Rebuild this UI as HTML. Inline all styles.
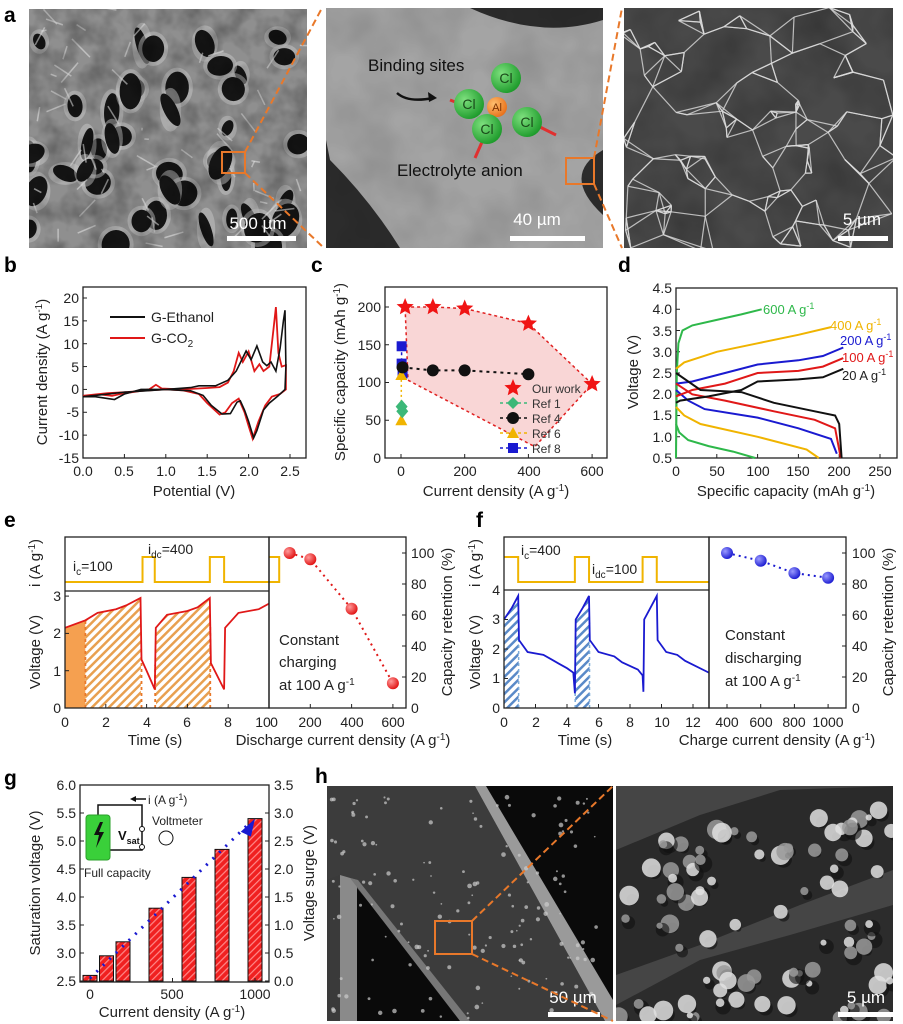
<!DOCTYPE html>
<html><head><meta charset="utf-8">
<style>
html,body{margin:0;padding:0;background:#fff;}
svg{display:block;font-family:"Liberation Sans",Arial,sans-serif;}
.t{font-size:14px;fill:#222;}
.ti{font-size:15px;fill:#222;}
.pl{font-size:21px;font-weight:bold;fill:#000;}
.ax{fill:none;stroke:#222;stroke-width:1.3;}
.w{fill:#fff;font-size:17px;}
</style></head>
<body>
<svg id="s" width="903" height="1024" viewBox="0 0 903 1024" xmlns="http://www.w3.org/2000/svg">
<defs>
<filter id="n1" x="0" y="0" width="1" height="1">
<feTurbulence type="fractalNoise" baseFrequency="0.045" numOctaves="3" seed="3"/>
<feColorMatrix type="matrix" values="0 0 0 0 0  0 0 0 0 0  0 0 0 0 0  1.6 0 0 0 -0.55"/>
</filter>
<filter id="n2" x="0" y="0" width="1" height="1">
<feTurbulence type="fractalNoise" baseFrequency="0.02" numOctaves="3" seed="7"/>
<feColorMatrix type="matrix" values="0 0 0 0 0  0 0 0 0 0  0 0 0 0 0  0.8 0 0 0 -0.25"/>
</filter>
<pattern id="hatchO" width="6" height="6" patternUnits="userSpaceOnUse" patternTransform="rotate(45)">
<rect width="6" height="6" fill="#fff"/><rect width="2.5" height="6" fill="#e8a050"/></pattern>
<pattern id="hatchB" width="6" height="6" patternUnits="userSpaceOnUse" patternTransform="rotate(45)">
<rect width="6" height="6" fill="#fff"/><rect width="2.5" height="6" fill="#5a8ac8"/></pattern>
<pattern id="hatchR" width="5" height="5" patternUnits="userSpaceOnUse" patternTransform="rotate(45)">
<rect width="5" height="5" fill="#f02020"/><rect width="1.2" height="5" fill="#ff8a8a"/></pattern>
<radialGradient id="rb" cx="0.35" cy="0.35" r="0.7"><stop offset="0" stop-color="#ff9a9a"/><stop offset="1" stop-color="#e01010"/></radialGradient>
<radialGradient id="bb" cx="0.35" cy="0.35" r="0.7"><stop offset="0" stop-color="#9a9aff"/><stop offset="1" stop-color="#1818d0"/></radialGradient>
<radialGradient id="gb" cx="0.35" cy="0.35" r="0.7"><stop offset="0" stop-color="#7ee07e"/><stop offset="1" stop-color="#1c9a2a"/></radialGradient>
<radialGradient id="ob" cx="0.35" cy="0.35" r="0.7"><stop offset="0" stop-color="#ffc070"/><stop offset="1" stop-color="#e8701a"/></radialGradient>
<clipPath id="c1"><rect x="29" y="9" width="278" height="239"/></clipPath>
<clipPath id="c3"><rect x="624" y="8" width="269" height="240"/></clipPath>
<clipPath id="ch1"><rect x="327" y="786" width="286" height="235"/></clipPath>
<clipPath id="ch2"><rect x="616" y="786" width="277" height="235"/></clipPath>
<clipPath id="cel"><rect x="65" y="591" width="204" height="117"/></clipPath>
<clipPath id="cfl"><rect x="504" y="590" width="205" height="118"/></clipPath>
</defs>

<!-- ===== a ===== -->
<text class="pl" x="4" y="22">a</text>
<rect x="29" y="9" width="278" height="239" fill="#8f8f8f"/>
<g clip-path="url(#c1)" id="a1g"></g>
<rect x="29" y="9" width="278" height="239" filter="url(#n1)" opacity="0.35"/>
<rect x="222" y="152" width="23" height="21" fill="none" stroke="#e8782a" stroke-width="2"/>
<text class="w" x="258" y="229" text-anchor="middle">500 µm</text>
<rect x="227" y="236" width="69" height="5" fill="#fff"/>

<rect x="326" y="8" width="277" height="240" fill="#2c2c2c"/>
<path d="M326 8 L470 8 Q540 40 603 20 L603 150 Q560 175 603 215 L603 248 L400 248 Q370 200 330 160 L326 140 Z" fill="#a4a4a4"/>
<rect x="326" y="8" width="277" height="240" fill="#000" filter="url(#n2)" opacity="0.25"/>
<text x="368" y="71" style="font-size:17px" fill="#111">Binding sites</text>
<path d="M397 93 Q408 103 433 98" fill="none" stroke="#111" stroke-width="2.5"/>
<path d="M437 98 l-9 -6 l1 10 z" fill="#111"/>
<line x1="450" y1="100" x2="458" y2="103" stroke="#e03030" stroke-width="3"/>
<line x1="540" y1="127" x2="556" y2="135" stroke="#e03030" stroke-width="3"/>
<line x1="482" y1="142" x2="475" y2="158" stroke="#e03030" stroke-width="3"/>
<circle cx="506" cy="78" r="15" fill="url(#gb)"/>
<circle cx="469" cy="104" r="15" fill="url(#gb)"/>
<circle cx="527" cy="122" r="15" fill="url(#gb)"/>
<circle cx="497" cy="107" r="10" fill="url(#ob)"/>
<circle cx="487" cy="129" r="15" fill="url(#gb)"/>
<g style="font-size:14px" fill="#1a4a1a" text-anchor="middle">
<text x="506" y="83">Cl</text><text x="469" y="109">Cl</text><text x="527" y="127">Cl</text><text x="487" y="134">Cl</text>
<text x="497" y="111" style="font-size:11px" fill="#7a3000">Al</text></g>
<text x="397" y="176" style="font-size:17px" fill="#111">Electrolyte anion</text>
<rect x="566" y="158" width="28" height="26" fill="none" stroke="#e8782a" stroke-width="2"/>
<text class="w" x="537" y="225" text-anchor="middle">40 µm</text>
<rect x="510" y="236" width="75" height="5" fill="#fff"/>

<rect x="624" y="8" width="269" height="240" fill="#4a4a4a"/>
<rect x="624" y="8" width="269" height="240" fill="#000" filter="url(#n2)" opacity="0.5"/>
<g clip-path="url(#c3)" id="a3g"></g>
<text class="w" x="862" y="225" text-anchor="middle">5 µm</text>
<rect x="838" y="236" width="50" height="5" fill="#fff"/>
<g stroke="#e8782a" stroke-width="2" stroke-dasharray="7,4" fill="none">
<line x1="245" y1="152" x2="322" y2="8"/><line x1="245" y1="173" x2="324" y2="248"/>
<line x1="594" y1="158" x2="622" y2="8"/><line x1="594" y1="184" x2="622" y2="248"/>
</g>

<!-- ===== b ===== -->
<text class="pl" x="4" y="272">b</text>
<rect class="ax" x="83" y="287" width="223" height="171"/>
<g id="bt"></g>
<g class="t" text-anchor="end">
<text x="79" y="303">20</text><text x="79" y="326">15</text><text x="79" y="349">10</text><text x="79" y="372">5</text><text x="79" y="394">0</text><text x="79" y="417">-5</text><text x="79" y="440">-10</text><text x="79" y="463">-15</text></g>
<g class="t" text-anchor="middle">
<text x="83" y="476">0.0</text><text x="124" y="476">0.5</text><text x="166" y="476">1.0</text><text x="207" y="476">1.5</text><text x="249" y="476">2.0</text><text x="290" y="476">2.5</text></g>
<text class="ti" x="194" y="496" text-anchor="middle">Potential (V)</text>
<text class="ti" transform="translate(47,372) rotate(-90)" text-anchor="middle">Current density (A g<tspan dy="-5" font-size="10">-1</tspan><tspan dy="5">)</tspan></text>
<line x1="110" y1="317" x2="145" y2="317" stroke="#111" stroke-width="2"/>
<text class="t" x="151" y="322">G-Ethanol</text>
<line x1="110" y1="338" x2="145" y2="338" stroke="#e01818" stroke-width="2"/>
<text class="t" x="151" y="343">G-CO<tspan dy="4" font-size="10">2</tspan></text>
<g id="bc"></g>

<!-- ===== c ===== -->
<text class="pl" x="311" y="272">c</text>
<g id="cc"></g>
<rect class="ax" x="385" y="287" width="222" height="171"/>
<g class="t" text-anchor="end">
<text x="381" y="463">0</text><text x="381" y="425">50</text><text x="381" y="387">100</text><text x="381" y="350">150</text><text x="381" y="312">200</text></g>
<g class="t" text-anchor="middle">
<text x="401" y="476">0</text><text x="465" y="476">200</text><text x="529" y="476">400</text><text x="592" y="476">600</text></g>
<text class="ti" x="496" y="496" text-anchor="middle">Current density (A g<tspan dy="-5" font-size="10">-1</tspan><tspan dy="5">)</tspan></text>
<text class="ti" transform="translate(345,372) rotate(-90)" text-anchor="middle">Specific capacity (mAh g<tspan dy="-5" font-size="10">-1</tspan><tspan dy="5">)</tspan></text>
<g style="font-size:12px" fill="#333">
<text x="532" y="393">Our work</text><text x="532" y="408">Ref 1</text><text x="532" y="423">Ref 4</text><text x="532" y="438">Ref 6</text><text x="532" y="453">Ref 8</text></g>

<!-- ===== d ===== -->
<text class="pl" x="618" y="272">d</text>
<rect class="ax" x="676" y="288" width="221" height="170"/>
<g class="t" text-anchor="end">
<text x="672" y="293">4.5</text><text x="672" y="314">4.0</text><text x="672" y="336">3.5</text><text x="672" y="357">3.0</text><text x="672" y="378">2.5</text><text x="672" y="399">2.0</text><text x="672" y="420">1.5</text><text x="672" y="442">1.0</text><text x="672" y="463">0.5</text></g>
<g class="t" text-anchor="middle">
<text x="676" y="476">0</text><text x="717" y="476">50</text><text x="758" y="476">100</text><text x="798" y="476">150</text><text x="839" y="476">200</text><text x="880" y="476">250</text></g>
<text class="ti" x="786" y="496" text-anchor="middle">Specific capacity (mAh g<tspan dy="-5" font-size="10">-1</tspan><tspan dy="5">)</tspan></text>
<text class="ti" transform="translate(638,372) rotate(-90)" text-anchor="middle">Voltage (V)</text>
<g id="dc"></g>
<g style="font-size:13px">
<text x="763" y="314" fill="#2eb84a">600 A g<tspan dy="-5" font-size="9">-1</tspan></text>
<text x="830" y="330" fill="#f0b400">400 A g<tspan dy="-5" font-size="9">-1</tspan></text>
<text x="840" y="345" fill="#1a1ad0">200 A g<tspan dy="-5" font-size="9">-1</tspan></text>
<text x="842" y="362" fill="#e01818">100 A g<tspan dy="-5" font-size="9">-1</tspan></text>
<text x="842" y="380" fill="#222">20 A g<tspan dy="-5" font-size="9">-1</tspan></text></g>

<!-- ===== e ===== -->
<text class="pl" x="4" y="527">e</text>
<g id="ec"></g>
<rect class="ax" x="65" y="537" width="204" height="171"/>
<line class="ax" x1="65" y1="591" x2="269" y2="591"/>
<rect class="ax" x="269" y="537" width="137" height="171"/>
<text class="t" x="73" y="571">i<tspan dy="4" font-size="10">c</tspan><tspan dy="-4">=100</tspan></text>
<text class="t" x="148" y="554">i<tspan dy="4" font-size="10">dc</tspan><tspan dy="-4">=400</tspan></text>
<g class="t" text-anchor="end"><text x="61" y="713">0</text><text x="61" y="676">1</text><text x="61" y="638">2</text><text x="61" y="601">3</text></g>
<g class="t" text-anchor="middle"><text x="65" y="727">0</text><text x="106" y="727">2</text><text x="147" y="727">4</text><text x="187" y="727">6</text><text x="228" y="727">8</text><text x="263" y="727">10</text><text x="274" y="727">0</text>
<text x="310" y="727">200</text><text x="352" y="727">400</text><text x="393" y="727">600</text></g>
<text class="ti" x="155" y="745" text-anchor="middle">Time (s)</text>
<text class="ti" x="343" y="745" text-anchor="middle">Discharge current density (A g<tspan dy="-5" font-size="10">-1</tspan><tspan dy="5">)</tspan></text>
<text class="ti" transform="translate(40,652) rotate(-90)" text-anchor="middle">Voltage (V)</text>
<text class="ti" transform="translate(40,563) rotate(-90)" text-anchor="middle">i (A g<tspan dy="-5" font-size="10">-1</tspan><tspan dy="5">)</tspan></text>
<g class="t"><text x="411" y="713">0</text><text x="411" y="682">20</text><text x="411" y="651">40</text><text x="411" y="620">60</text><text x="411" y="589">80</text><text x="411" y="558">100</text></g>
<g class="ti"><text x="279" y="645">Constant</text><text x="279" y="667">charging</text><text x="279" y="690">at 100 A g<tspan dy="-5" font-size="10">-1</tspan></text></g>
<text class="ti" transform="translate(452,622) rotate(-90)" text-anchor="middle">Capacity retention (%)</text>

<!-- ===== f ===== -->
<text class="pl" x="476" y="527">f</text>
<g id="fc"></g>
<rect class="ax" x="504" y="537" width="205" height="171"/>
<line class="ax" x1="504" y1="590" x2="709" y2="590"/>
<rect class="ax" x="709" y="537" width="137" height="171"/>
<text class="t" x="521" y="555">i<tspan dy="4" font-size="10">c</tspan><tspan dy="-4">=400</tspan></text>
<text class="t" x="592" y="574">i<tspan dy="4" font-size="10">dc</tspan><tspan dy="-4">=100</tspan></text>
<g class="t" text-anchor="end"><text x="500" y="713">0</text><text x="500" y="683">1</text><text x="500" y="654">2</text><text x="500" y="624">3</text><text x="500" y="595">4</text></g>
<g class="t" text-anchor="middle"><text x="504" y="727">0</text><text x="536" y="727">2</text><text x="567" y="727">4</text><text x="599" y="727">6</text><text x="630" y="727">8</text><text x="662" y="727">10</text><text x="693" y="727">12</text>
<text x="727" y="727">400</text><text x="761" y="727">600</text><text x="794" y="727">800</text><text x="828" y="727">1000</text></g>
<text class="ti" x="585" y="745" text-anchor="middle">Time (s)</text>
<text class="ti" x="777" y="745" text-anchor="middle">Charge current density (A g<tspan dy="-5" font-size="10">-1</tspan><tspan dy="5">)</tspan></text>
<text class="ti" transform="translate(480,652) rotate(-90)" text-anchor="middle">Voltage (V)</text>
<text class="ti" transform="translate(480,563) rotate(-90)" text-anchor="middle">i (A g<tspan dy="-5" font-size="10">-1</tspan><tspan dy="5">)</tspan></text>
<g class="t"><text x="852" y="713">0</text><text x="852" y="682">20</text><text x="852" y="651">40</text><text x="852" y="620">60</text><text x="852" y="589">80</text><text x="852" y="558">100</text></g>
<g class="ti"><text x="725" y="640">Constant</text><text x="725" y="663">discharging</text><text x="725" y="686">at 100 A g<tspan dy="-5" font-size="10">-1</tspan></text></g>
<text class="ti" transform="translate(893,622) rotate(-90)" text-anchor="middle">Capacity retention (%)</text>

<!-- ===== g ===== -->
<text class="pl" x="4" y="785">g</text>
<g id="gc"></g>
<rect class="ax" x="80" y="785" width="189" height="197"/>
<g class="t" text-anchor="end"><text x="76" y="986">2.5</text><text x="76" y="958">3.0</text><text x="76" y="930">3.5</text><text x="76" y="902">4.0</text><text x="76" y="874">4.5</text><text x="76" y="846">5.0</text><text x="76" y="818">5.5</text><text x="76" y="790">6.0</text></g>
<g class="t"><text x="274" y="986">0.0</text><text x="274" y="958">0.5</text><text x="274" y="930">1.0</text><text x="274" y="902">1.5</text><text x="274" y="874">2.0</text><text x="274" y="846">2.5</text><text x="274" y="818">3.0</text><text x="274" y="790">3.5</text></g>
<g class="t" text-anchor="middle"><text x="90" y="999">0</text><text x="172" y="999">500</text><text x="255" y="999">1000</text></g>
<text class="ti" x="172" y="1017" text-anchor="middle">Current density (A g<tspan dy="-5" font-size="10">-1</tspan><tspan dy="5">)</tspan></text>
<text class="ti" transform="translate(40,883) rotate(-90)" text-anchor="middle">Saturation voltage (V)</text>
<text class="ti" transform="translate(314,883) rotate(-90)" text-anchor="middle">Voltage surge (V)</text>
<path d="M98 815 V805 H142 V850 H98 V840" fill="none" stroke="#111" stroke-width="1.5"/>
<line x1="132" y1="799" x2="146" y2="799" stroke="#111" stroke-width="1.5"/><path d="M130 799 l6 -3 v6 z" fill="#111"/>
<text class="t" x="148" y="804" style="font-size:12px">i (A g<tspan dy="-4" font-size="9">-1</tspan><tspan dy="4">)</tspan></text>
<rect x="86" y="815" width="24" height="45" rx="3" fill="#3ad03a" stroke="#2aa02a"/>
<path d="M100 822 l-6 13 h5 l-3 13 l8 -16 h-5 l4 -10 z" fill="#111"/>
<text x="118" y="840" style="font-size:13px;font-weight:bold" fill="#111">V<tspan dy="4" font-size="9">sat</tspan></text>
<circle cx="142" cy="829" r="2.5" fill="#fff" stroke="#111"/><circle cx="142" cy="847" r="2.5" fill="#fff" stroke="#111"/>
<circle cx="166" cy="838" r="7" fill="none" stroke="#111"/>
<text x="152" y="825" style="font-size:12px" fill="#222">Voltmeter</text>
<text x="84" y="877" style="font-size:12px" fill="#222">Full capacity</text>

<!-- ===== h ===== -->
<text class="pl" x="315" y="783">h</text>
<rect x="327" y="786" width="286" height="235" fill="#0a0a0a"/>
<g clip-path="url(#ch1)">
<polygon points="327,786 475,786 605,1021 470,1021 350,880 327,880" fill="#3c3c3c"/>
<polygon points="327,880 340,875 340,1021 327,1021" fill="#3a3a3a"/>
<polygon points="475,786 486,786 613,1000 613,1021 605,1021" fill="#9a9a9a"/>
<polygon points="340,875 357,880 357,1021 340,1021" fill="#8a8a8a"/>
<polygon points="350,878 358,880 470,1021 460,1021" fill="#777"/>
<g id="h1g"></g>
</g>
<rect x="435" y="921" width="37" height="33" fill="none" stroke="#e8782a" stroke-width="2"/>
<text class="w" x="573" y="1003" text-anchor="middle">50 µm</text>
<rect x="548" y="1012" width="52" height="5" fill="#fff"/>
<rect x="616" y="786" width="277" height="235" fill="#454545"/>
<g clip-path="url(#ch2)">
<polygon points="616,850 700,815 780,790 893,786 893,870 800,905 700,945 616,975" fill="#2a2a2a"/>
<polygon points="616,1021 616,1005 700,960 790,935 893,905 893,1021" fill="#2c2c2c"/>
<g id="h2g"></g>
</g>
<text class="w" x="866" y="1003" text-anchor="middle">5 µm</text>
<rect x="838" y="1012" width="55" height="5" fill="#fff"/>
<g stroke="#e8782a" stroke-width="2" stroke-dasharray="7,4" fill="none">
<line x1="472" y1="921" x2="613" y2="786"/><line x1="472" y1="954" x2="613" y2="1021"/></g>
</svg>

<script>
(function(){
var NS="http://www.w3.org/2000/svg";
function el(parent,tag,attrs){var e=document.createElementNS(NS,tag);for(var k in attrs)e.setAttribute(k,attrs[k]);document.getElementById(parent).appendChild(e);return e;}
var seed=7;function rnd(){seed=(seed*16807)%2147483647;return seed/2147483647;}
function pth(pts,fx,fy){return pts.map(function(p,i){return (i?"L":"M")+fx(p[0]).toFixed(1)+" "+fy(p[1]).toFixed(1);}).join(" ");}
function ticks(g,x0,x1,y0,y1,xs,ys,right){xs.forEach(function(x){el(g,"line",{x1:x,x2:x,y1:y1,y2:y1-4,stroke:"#222"});});ys.forEach(function(y){el(g,"line",{x1:x0,x2:x0+4,y1:y,y2:y,stroke:"#222"});if(right)el(g,"line",{x1:x1,x2:x1-4,y1:y,y2:y,stroke:"#222"});});}

// a1 porous holes
for(var i=0;i<45;i++){var cx=29+rnd()*278,cy=9+rnd()*239,rx=5+rnd()*9,ry=7+rnd()*12;
el("a1g","ellipse",{cx:cx,cy:cy,rx:rx+4,ry:ry+4,fill:"#c8c8c8",opacity:0.5});
el("a1g","ellipse",{cx:cx,cy:cy,rx:rx,ry:ry,fill:"#151515",transform:"rotate("+(rnd()*60-30)+" "+cx+" "+cy+")"});}
for(var i=0;i<60;i++){var x=29+rnd()*278,y=9+rnd()*239;el("a1g","line",{x1:x,y1:y,x2:x+rnd()*40-20,y2:y+rnd()*40-20,stroke:"#e0e0e0","stroke-width":1.5,opacity:0.6});}
// a3 network lines
var nodes=[];for(var i=0;i<120;i++)nodes.push([620+rnd()*277,4+rnd()*248]);
nodes.forEach(function(a){var best=[];nodes.forEach(function(b){var d=(a[0]-b[0])*(a[0]-b[0])+(a[1]-b[1])*(a[1]-b[1]);if(d>0)best.push([d,b]);});best.sort(function(p,q){return p[0]-q[0];});
for(var j=0;j<3;j++)el("a3g","line",{x1:a[0],y1:a[1],x2:best[j][1][0],y2:best[j][1][1],stroke:"#dcdcdc","stroke-width":1.2,opacity:0.8});});
// h1 dots
for(var i=0;i<150;i++){var x=330+rnd()*270,y=790+rnd()*230;el("h1g","circle",{cx:x,cy:y,r:0.8+rnd()*1.6,fill:"#ccc",opacity:0.7});}
// h2 clusters
for(var i=0;i<120;i++){var x=616+rnd()*277,y=786+rnd()*235;var t=x-616;
var inUp=(y>850-t*0.23&&y<975-t*0.38),inLow=(y>1005-t*0.36);if(!(inUp||inLow))continue;
el("h2g","circle",{cx:x+3,cy:y+4,r:3+rnd()*6,fill:"#111",opacity:0.6});
el("h2g","circle",{cx:x,cy:y,r:3+rnd()*7,fill:rnd()<0.5?"#e0e0e0":"#9a9a9a",opacity:0.85});}

// b
var bx=function(v){return 83+v*82.8},by=function(j){return 298+(20-j)*4.571};
var xs=[],ys=[];for(var v=0;v<=2.5;v+=0.5)xs.push(bx(v));for(var j=-15;j<=20;j+=5)ys.push(by(j));
ticks("bt",83,306,287,458,xs,ys,false);
var eth=[[0,-1.6],[0.2,-1.2],[0.5,-0.6],[1.0,0],[1.3,0.4],[1.4,0.8],[1.6,0.8],[1.75,2],[1.85,4],[1.97,8.4],[2.03,6.5],[2.1,9.5],[2.17,6],[2.22,5.2],[2.27,6],[2.33,4],[2.38,9],[2.42,15],[2.44,17.3],[2.45,5],[2.44,0],[2.35,-1.5],[2.25,-3],[2.18,-4.5],[2.1,-9],[2.06,-10.6],[2.0,-7],[1.95,-4.5],[1.9,-2.5],[1.86,-2.8],[1.78,-5.3],[1.68,-5.4],[1.55,-3.5],[1.45,-1.3],[1.3,-0.3],[1.0,0],[0.7,0],[0.5,-1],[0.38,-2.2],[0.3,-2],[0.15,-1.6],[0,-1.6]];
var co2=[[0,-1.4],[0.3,-0.8],[0.6,-0.5],[0.8,0],[0.88,1],[0.95,0.2],[1.2,0],[1.5,0.3],[1.65,0.5],[1.75,1.5],[1.82,4],[1.88,8],[1.93,6],[2.0,8.3],[2.07,4],[2.13,5.5],[2.18,4],[2.25,5],[2.3,13],[2.33,18],[2.36,8],[2.4,5],[2.45,5.3],[2.45,0],[2.38,-1],[2.28,-1.6],[2.2,-3.5],[2.12,-7],[2.05,-10.8],[2.0,-8],[1.95,-5],[1.88,-2],[1.8,-3],[1.72,-5],[1.65,-5.5],[1.5,-3],[1.4,-1],[1.2,-0.2],[1.0,0],[0.7,-0.3],[0.45,-1],[0.35,-1.4],[0.2,-1.1],[0,-1.4]];
el("bc","path",{d:pth(co2,bx,by),fill:"none",stroke:"#e01818","stroke-width":1.8});
el("bc","path",{d:pth(eth,bx,by),fill:"none",stroke:"#111","stroke-width":1.6});

// c
var cx_=function(c){return 401+c*0.3185},cy_=function(s){return 458-s*0.755};
var poly=[[13,200],[100,200],[200,198],[400,178],[600,98],[420,15],[22,103],[13,200]];
el("cc","path",{d:pth(poly,cx_,cy_)+"Z",fill:"#f9d6d6",stroke:"#e02020","stroke-width":1.5,"stroke-dasharray":"3,3"});
xs=[];ys=[];for(var c=0;c<=600;c+=200)xs.push(cx_(c));for(var s=0;s<=200;s+=50)ys.push(cy_(s));
ticks("cc",385,607,287,458,xs,ys,false);
el("cc","path",{d:pth([[2,148],[2,125],[5,112]],cx_,cy_),fill:"none",stroke:"#1a1ad0","stroke-width":1.5,"stroke-dasharray":"3,3"});
el("cc","path",{d:pth([[1,110],[1,50]],cx_,cy_),fill:"none",stroke:"#f0b400","stroke-width":1.5,"stroke-dasharray":"2,3"});
el("cc","path",{d:pth([[5,120],[100,116],[200,116],[400,111]],cx_,cy_),fill:"none",stroke:"#111","stroke-width":2,"stroke-dasharray":"3,4"});
function star(g,x,y,r,col){var p=[];for(var k=0;k<10;k++){var a=-Math.PI/2+k*Math.PI/5,rr=k%2?r*0.45:r;p.push((x+rr*Math.cos(a)).toFixed(1)+","+(y+rr*Math.sin(a)).toFixed(1));}el(g,"polygon",{points:p.join(" "),fill:col});}
[[13,200],[100,200],[200,198],[400,178],[600,98]].forEach(function(p){star("cc",cx_(p[0]),cy_(p[1]),9,"#f01414");});
[[2,148],[2,125],[5,112]].forEach(function(p){el("cc","rect",{x:cx_(p[0])-5,y:cy_(p[1])-5,width:10,height:10,fill:"#1a1ad0"});});
[[1,110],[1,50]].forEach(function(p){var x=cx_(p[0]),y=cy_(p[1]);el("cc","polygon",{points:(x-6)+","+(y+5)+" "+(x+6)+","+(y+5)+" "+x+","+(y-6),fill:"#f0b400"});});
[[2,68],[4,62]].forEach(function(p){var x=cx_(p[0]),y=cy_(p[1]);el("cc","polygon",{points:(x-6)+","+y+" "+x+","+(y-7)+" "+(x+6)+","+y+" "+x+","+(y+7),fill:"#3cb878"});});
[[5,120],[100,116],[200,116],[400,111]].forEach(function(p){el("cc","circle",{cx:cx_(p[0]),cy:cy_(p[1]),r:6,fill:"#111"});});
star("cc",513,388,9,"#f01414");
el("cc","line",{x1:500,x2:527,y1:403,y2:403,stroke:"#3cb878","stroke-dasharray":"3,3","stroke-width":1.5});el("cc","polygon",{points:"507,403 513,397 519,403 513,409",fill:"#3cb878"});
el("cc","line",{x1:500,x2:527,y1:418,y2:418,stroke:"#111","stroke-dasharray":"3,3","stroke-width":1.5});el("cc","circle",{cx:513,cy:418,r:6,fill:"#111"});
el("cc","line",{x1:500,x2:527,y1:433,y2:433,stroke:"#f0b400","stroke-dasharray":"3,3","stroke-width":1.5});el("cc","polygon",{points:"507,438 519,438 513,427",fill:"#f0b400"});
el("cc","line",{x1:500,x2:527,y1:448,y2:448,stroke:"#1a1ad0","stroke-dasharray":"3,3","stroke-width":1.5});el("cc","rect",{x:508,y:443,width:10,height:10,fill:"#1a1ad0"});

// d
var dx=function(q){return 676+q*0.816},dy=function(v){return 288+(4.5-v)*42.5};
xs=[];ys=[];for(var q=0;q<=250;q+=50)xs.push(dx(q));for(var v=0.5;v<=4.5;v+=0.5)ys.push(dy(v));
ticks("dc",676,897,288,458,xs,ys,false);
var dc=[["#2eb84a",[[0,0.5],[1,2.5],[3,3.2],[8,3.5],[20,3.62],[50,3.75],[80,3.88],[105,4.0]],[[0,1.3],[4,1.1],[15,0.92],[40,0.78],[70,0.65],[97,0.5]]],
["#f0b400",[[0,2.6],[10,2.75],[50,3.0],[100,3.2],[150,3.4],[190,3.58]],[[0,1.7],[10,1.5],[30,1.3],[100,1.0],[160,0.7],[175,0.5]]],
["#1a1ad0",[[0,2.25],[20,2.3],[60,2.5],[100,2.7],[150,2.8],[180,2.9],[205,3.1]],[[0,2.1],[15,1.85],[35,1.65],[100,1.45],[150,1.2],[190,0.95],[197,0.6]]],
["#e01818",[[0,1.95],[20,2.1],[60,2.25],[100,2.5],[150,2.55],[180,2.65],[205,2.85]],[[0,2.25],[20,2.0],[60,1.85],[120,1.6],[170,1.4],[195,1.2],[202,0.5]]],
["#111",[[0,1.8],[5,1.85],[40,1.95],[80,2.1],[100,2.3],[150,2.35],[180,2.4],[205,2.6]],[[0,2.5],[30,2.1],[80,2.05],[120,1.8],[170,1.6],[195,1.5],[200,1.3],[203,0.5]]]];
dc.forEach(function(c){el("dc","path",{d:pth(c[1],dx,dy),fill:"none",stroke:c[0],"stroke-width":2});el("dc","path",{d:pth(c[2],dx,dy),fill:"none",stroke:c[0],"stroke-width":2});});

// e
var ex=function(t){return 65+t*20.4},ey=function(v){return 708-v*37.3};
var ev=[[0,2.15],[1,2.35],[1.6,2.55],[2.5,2.65],[3,2.75],[3.7,2.95],[3.75,1.3],[4,1.0],[4.4,0.5],[4.45,2.15],[5,2.5],[6,2.6],[6.5,2.7],[7.1,2.95],[7.15,1.2],[7.8,0.5],[7.85,2.15],[8.5,2.55],[9.5,2.65],[10.5,2.95],[10.55,1.0],[11,0.6]];
function interp(arr,t){for(var i=1;i<arr.length;i++)if(arr[i][0]>=t){var a=arr[i-1],b=arr[i];return a[1]+(b[1]-a[1])*(t-a[0])/((b[0]-a[0])||1);}return arr[arr.length-1][1];}
function area(arr,t0,t1,fx,fy){var p=[[t0,0]];arr.forEach(function(q){if(q[0]>t0&&q[0]<t1)p.push(q);});p.splice(1,0,[t0,interp(arr,t0)]);p.push([t1,interp(arr,t1)]);p.push([t1,0]);return pth(p,fx,fy)+"Z";}
el("ec","path",{d:area(ev,0,1,ex,ey),fill:"#f5a050"});
el("ec","path",{d:area(ev,1,3.72,ex,ey),fill:"url(#hatchO)"});
el("ec","path",{d:area(ev,4.46,7.12,ex,ey),fill:"url(#hatchO)"});
[1,3.75,4.42,7.12].forEach(function(t){el("ec","line",{x1:ex(t),x2:ex(t),y1:ey(0),y2:ey(interp(ev,t)),stroke:"#e8782a","stroke-width":1.8,"stroke-dasharray":"3,3"});});
el("ec","path",{d:pth(ev,ex,ey),fill:"none",stroke:"#e01818","stroke-width":1.8,"clip-path":"url(#cel)"});
el("ec","path",{d:"M65 582 H"+ex(3.8)+" V557 H"+ex(4.4)+" V582 H"+ex(7.1)+" V557 H"+ex(7.8)+" V582 H"+ex(10.5)+" V557 H269",fill:"none",stroke:"#f0b400","stroke-width":2});
xs=[];for(var t=0;t<=10;t+=2)xs.push(ex(t));ys=[];for(var v=0;v<=3;v++)ys.push(ey(v));
ticks("ec",65,269,591,708,xs,ys,false);
var erx=function(c){return 269+c*0.2065},ery=function(r){return 708-r*1.55};
[0,200,400,600].forEach(function(c){el("ec","line",{x1:erx(c),x2:erx(c),y1:708,y2:704,stroke:"#222"});});
[0,20,40,60,80,100].forEach(function(r){el("ec","line",{x1:406,x2:402,y1:ery(r),y2:ery(r),stroke:"#222"});});
var ep=[[100,100],[200,96],[400,64],[600,16]];
el("ec","path",{d:pth(ep,erx,ery),fill:"none",stroke:"#e01818","stroke-width":2,"stroke-dasharray":"2,4"});
ep.forEach(function(p){el("ec","circle",{cx:erx(p[0]),cy:ery(p[1]),r:6,fill:"url(#rb)"});});

// f
var fx=function(t){return 504+t*15.75},fy=function(v){return 708-v*29.5};
var fv=[[0,3],[0.5,3.4],[0.9,3.8],[0.95,2.3],[1.5,1.9],[2.5,1.8],[3,1.65],[3.5,1.5],[4,1.35],[4.4,1.2],[4.5,0.5],[4.55,3.0],[5.0,3.4],[5.4,3.8],[5.45,2.3],[6,1.9],[7,1.75],[7.5,1.55],[8.5,1.3],[8.8,1.1],[8.85,0.55],[8.9,3.0],[9.3,3.4],[9.7,3.8],[9.75,2.3],[10.3,1.9],[11,1.8],[11.5,1.6],[13,1.2]];
el("fc","path",{d:area(fv,0,0.93,fx,fy),fill:"url(#hatchB)"});
el("fc","path",{d:area(fv,4.52,5.43,fx,fy),fill:"url(#hatchB)"});
[0.93,4.52,5.43].forEach(function(t){el("fc","line",{x1:fx(t),x2:fx(t),y1:fy(0),y2:fy(interp(fv,t)),stroke:"#7aaad8","stroke-width":1.5,"stroke-dasharray":"3,3"});});
el("fc","path",{d:pth(fv,fx,fy),fill:"none",stroke:"#1a1ad0","stroke-width":1.8,"clip-path":"url(#cfl)"});
el("fc","path",{d:"M504 557 H"+fx(0.9)+" V582 H"+fx(4.5)+" V557 H"+fx(5.4)+" V582 H"+fx(8.8)+" V557 H"+fx(9.7)+" V582 H709",fill:"none",stroke:"#f0b400","stroke-width":2});
xs=[];for(var t=0;t<=12;t+=2)xs.push(fx(t));ys=[];for(var v=0;v<=4;v++)ys.push(fy(v));
ticks("fc",504,709,590,708,xs,ys,false);
var frx=function(c){return 727+(c-400)*0.1685};
[400,600,800,1000].forEach(function(c){el("fc","line",{x1:frx(c),x2:frx(c),y1:708,y2:704,stroke:"#222"});});
[0,20,40,60,80,100].forEach(function(r){el("fc","line",{x1:846,x2:842,y1:ery(r),y2:ery(r),stroke:"#222"});});
var fp=[[400,100],[600,95],[800,87],[1000,84]];
el("fc","path",{d:pth(fp,frx,ery),fill:"none",stroke:"#1a1ad0","stroke-width":2,"stroke-dasharray":"2,4"});
fp.forEach(function(p){el("fc","circle",{cx:frx(p[0]),cy:ery(p[1]),r:6,fill:"url(#bb)"});});

// g
var gx=function(c){return 90+c*0.165},gy=function(v){return 981-(v-2.5)*56};
[[0,2.6],[100,2.95],[200,3.2],[400,3.8],[600,4.35],[800,4.85],[1000,5.4]].forEach(function(b){
el("gc","rect",{x:gx(b[0])-7,y:gy(b[1]),width:14,height:981-gy(b[1]),fill:"url(#hatchR)",stroke:"#111","stroke-width":1});});
el("gc","path",{d:"M"+gx(0)+" "+gy(2.55)+" L"+gx(960)+" "+gy(5.3),fill:"none",stroke:"#1a1ad0","stroke-width":3,"stroke-dasharray":"2,7"});
el("gc","polygon",{points:(gx(1000))+","+gy(5.4)+" "+(gx(950)-6)+","+(gy(5.2)+2)+" "+(gx(975))+","+(gy(5.22)+8),fill:"#1a1ad0"});
xs=[gx(0),gx(500),gx(1000)];ys=[];for(var v=2.5;v<=6;v+=0.5)ys.push(gy(v));
ticks("gc",80,269,785,982,xs,ys,true);
})();
</script>
</body></html>
